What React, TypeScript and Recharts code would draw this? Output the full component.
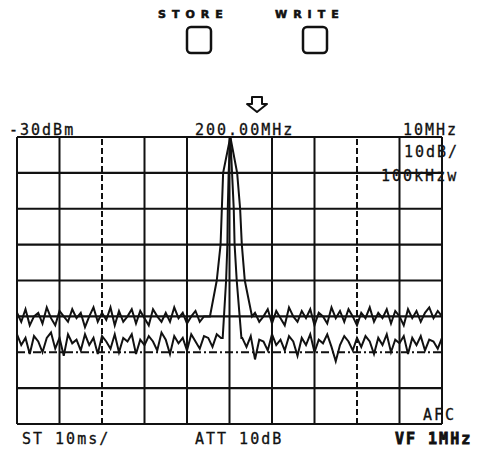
import React from 'react';
import { LineChart, Line, XAxis, YAxis, ReferenceLine } from 'recharts';

// span 10 MHz (1 MHz/div) around 200.00 MHz, ref -30 dBm, 10 dB/div
const FREQ_TICKS = [-5, -4, -3, -2, -1, 0, 1, 2, 3, 4, 5];
const DB_TICKS = [-110, -100, -90, -80, -70, -60, -50, -40, -30];
const DASHED_FREQ = [-3, 3];
const DASHED_DB = [-90];

const STEP = 0.1;

// upper trace (wide filter)
const UPPER_LEFT_START = -5.0;
const UPPER_LEFT = [
  -79, -81.5, -78, -82.5, -80, -79, -82, -77.5, -80.5, -82.5,
  -78.5, -80, -81.5, -78, -80.5, -79, -83, -80, -77.5, -81.5,
  -79, -81, -77.5, -82.5, -78.5, -81.5, -80, -78, -82, -78.5,
  -80.5, -82.5, -78, -80, -81.5, -79, -81.5, -77.5, -80.5, -79,
  -82, -80, -78.5, -81.5, -80, -80,
];
const UPPER_PEAK = [
  [-0.46, -80], [-0.3, -70], [-0.21, -60], [-0.18, -50], [-0.15, -40], [0.02, -30],
  [0.18, -40], [0.25, -50], [0.29, -60], [0.36, -70], [0.53, -80],
];
const UPPER_RIGHT_START = 0.6;
const UPPER_RIGHT = [
  -79, -81.5, -80, -78, -82, -78.5, -80.5, -82.5, -77.5, -80,
  -81.5, -78.5, -80.5, -78, -82.5, -79, -80, -82, -77.5, -80.5,
  -78.5, -81.5, -78, -80, -82.5, -79, -80.5, -77.5, -81.5, -79,
  -80.5, -78, -82, -78.5, -80, -82.5, -78, -80.5, -78.5, -81.5,
  -79, -77.5, -80.5, -78.5, -80,
];

// lower trace (narrow filter)
const LOWER_LEFT_START = -5.0;
const LOWER_LEFT = [
  -85, -88, -86, -90.5, -85.5, -87, -90, -86, -84.5, -89,
  -86, -91, -85, -87.5, -86.5, -89.5, -85, -88, -86, -90.5,
  -85.5, -87, -89, -85, -90, -86, -87, -85, -90.5, -86.5,
  -88, -85.5, -87, -89.5, -84.5, -86.5, -90.5, -85.5, -87.5, -86,
  -89.5, -85, -87, -89, -85.5, -86, -88.5, -85, -86,
];
const LOWER_PEAK = [
  [-0.16, -86], [-0.08, -70], [-0.05, -60], [-0.04, -50], [-0.02, -40], [0.02, -30],
  [0.06, -40], [0.1, -50], [0.12, -60], [0.17, -70], [0.28, -86],
];
const LOWER_RIGHT_START = 0.3;
const LOWER_RIGHT = [
  -86, -88.5, -85.5, -92, -86.5, -87, -89.5, -85, -88, -86.5,
  -89.5, -85.5, -87, -91, -86, -88, -85, -90, -86.5, -87.5,
  -85, -88.5, -92.5, -88, -85.5, -87, -89.5, -86, -88.5, -85.5,
  -87, -90.5, -86, -88, -85, -90, -86.5, -87.5, -85.5, -90.5,
  -86, -88, -85.5, -89.5, -86.5, -87, -89, -86,
];

const toPoints = (start: number, values: number[]) =>
  values.map((v, i) => ({ f: Math.round((start + i * STEP) * 100) / 100, v }));

const upperData = [
  ...toPoints(UPPER_LEFT_START, UPPER_LEFT),
  ...UPPER_PEAK.map(([f, v]) => ({ f, v })),
  ...toPoints(UPPER_RIGHT_START, UPPER_RIGHT),
];
const lowerData = [
  ...toPoints(LOWER_LEFT_START, LOWER_LEFT),
  ...LOWER_PEAK.map(([f, v]) => ({ f, v })),
  ...toPoints(LOWER_RIGHT_START, LOWER_RIGHT),
];

const MONO = '"DejaVu Sans Mono", "Liberation Mono", monospace';
const INK = '#111';

const Overlay = () => (
  <svg width={478} height={450} style={{ position: 'absolute', left: 0, top: 0, pointerEvents: 'none' }}>
    <g fontFamily='"DejaVu Sans", sans-serif' fontWeight="bold" fontSize={11} fill={INK} stroke={INK} strokeWidth={0.6} letterSpacing={6}>
      <text x={158} y={18}>STORE</text>
      <text x={275} y={18}>WRITE</text>
    </g>
    <rect x={187} y={27} width={24} height={26} rx={4} fill="none" stroke={INK} strokeWidth={2.5} />
    <rect x={303} y={27} width={24} height={26} rx={4} fill="none" stroke={INK} strokeWidth={2.5} />
    <polygon points="252,97 262,97 262,104 267,104 257,112 247,104 252,104" fill="none" stroke={INK} strokeWidth={2} strokeLinejoin="round" />
    <g fontFamily={MONO} fontSize={15} fill={INK} stroke={INK} strokeWidth={0.3} letterSpacing={2}>
      <text x={9} y={135}>-30dBm</text>
      <text x={195} y={135}>200.00MHz</text>
      <text x={403} y={135}>10MHz</text>
      <text x={404} y={157}>10dB/</text>
      <text x={381} y={181}>100kHzw</text>
      <text x={423} y={420}>AFC</text>
      <text x={22} y={444}>ST 10ms/</text>
      <text x={195} y={444}>ATT 10dB</text>
      <text x={395} y={444} fontWeight="bold" strokeWidth={0.8}>VF 1MHz</text>
    </g>
  </svg>
);

export default function App() {
  return (
    <div style={{ position: 'fixed', left: 0, top: 0, width: 478, height: 450, background: '#fff' }}>
      <LineChart width={478} height={450} margin={{ top: 137, right: 36, bottom: 26, left: 17 }}>
        <XAxis dataKey="f" type="number" domain={[-5, 5]} ticks={FREQ_TICKS} hide />
        <YAxis dataKey="v" type="number" domain={[-110, -30]} ticks={DB_TICKS} hide />
        {FREQ_TICKS.map((t) => (
          <ReferenceLine key={`x${t}`} x={t} stroke={INK} strokeWidth={2}
            strokeDasharray={DASHED_FREQ.includes(t) ? '6 3' : undefined} />
        ))}
        {DB_TICKS.map((t) => (
          <ReferenceLine key={`y${t}`} y={t} stroke={INK} strokeWidth={2.2}
            strokeDasharray={DASHED_DB.includes(t) ? '8 3 2 3' : undefined} />
        ))}
        <Line data={upperData} dataKey="v" type="linear" stroke={INK} strokeWidth={2} dot={false} isAnimationActive={false} />
        <Line data={lowerData} dataKey="v" type="linear" stroke={INK} strokeWidth={2} dot={false} isAnimationActive={false} />
      </LineChart>
      <Overlay />
    </div>
  );
}
